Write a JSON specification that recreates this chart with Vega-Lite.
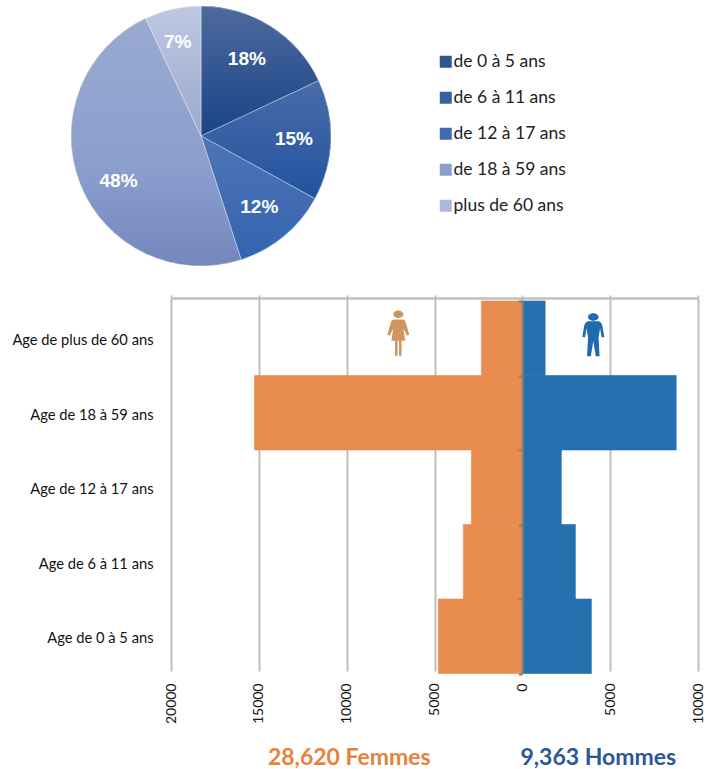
{
"$schema":"https://vega.github.io/schema/vega-lite/v6.json",
"padding":{"left":11,"top":0,"right":0,"bottom":0},
"spacing":22,
"background":"white",
"config":{"view":{"stroke":null},"font":"Lato"},
"resolve":{"scale":{"color":"independent"}},
"datasets":{
"pie":[
{"groupe":"de 0 à 5 ans","part":18,"label":"18%","i":1},
{"groupe":"de 6 à 11 ans","part":15,"label":"15%","i":2},
{"groupe":"de 12 à 17 ans","part":12,"label":"12%","i":3},
{"groupe":"de 18 à 59 ans","part":48,"label":"48%","i":4},
{"groupe":"plus de 60 ans","part":7,"label":"7%","i":5}],
"bars":[
{"age":"Age de plus de 60 ans","sexe":"Femmes","n":-2330},
{"age":"Age de 18 à 59 ans","sexe":"Femmes","n":-15250},
{"age":"Age de 12 à 17 ans","sexe":"Femmes","n":-2900},
{"age":"Age de 6 à 11 ans","sexe":"Femmes","n":-3360},
{"age":"Age de 0 à 5 ans","sexe":"Femmes","n":-4780},
{"age":"Age de plus de 60 ans","sexe":"Hommes","n":1300},
{"age":"Age de 18 à 59 ans","sexe":"Hommes","n":8760},
{"age":"Age de 12 à 17 ans","sexe":"Hommes","n":2220},
{"age":"Age de 6 à 11 ans","sexe":"Hommes","n":3020},
{"age":"Age de 0 à 5 ans","sexe":"Hommes","n":3930}],
"totaux":[
{"age":"Age de 0 à 5 ans","sexe":"Femmes","n":-9850,"t":"28,620 Femmes"},
{"age":"Age de 0 à 5 ans","sexe":"Hommes","n":4325,"t":"9,363 Hommes"}],
"icones":[
{"age":"Age de plus de 60 ans","sexe":"Femmes","n":-7060},
{"age":"Age de plus de 60 ans","sexe":"Hommes","n":4040}]
},
"vconcat":[
{"width":60,"height":272,
"data":{"name":"pie"},
"encoding":{
"theta":{"field":"part","type":"quantitative","stack":true},
"order":{"field":"i","type":"ordinal"}
},
"layer":[
{"mark":{"type":"arc","outerRadius":130},
"encoding":{"color":{"field":"groupe","type":"nominal","sort":null,
"scale":{"domain":["de 0 à 5 ans","de 6 à 11 ans","de 12 à 17 ans","de 18 à 59 ans","plus de 60 ans"],
"range":["#2F5492","#3560A4","#4169B4","#8B9ECE","#ADB8D8"]},
"legend":{"title":null,"orient":"none","legendX":266,"legendY":53,"symbolType":"square","symbolSize":144,"symbolStrokeWidth":0,"labelFont":"Lato","labelFontSize":17.5,"labelColor":"#222222","labelOffset":-1,"rowPadding":17,"labelLimit":200,
"encode":{"symbols":{"update":{"fill":{"signal":"datum.value === 'de 0 à 5 ans' ? {gradient:'linear',x1:0,y1:0,x2:0,y2:1,stops:[{offset:0,color:'#4E6A9E'},{offset:1,color:'#194487'}]} : datum.value === 'de 6 à 11 ans' ? {gradient:'linear',x1:0,y1:0,x2:0,y2:1,stops:[{offset:0,color:'#4A6CA9'},{offset:1,color:'#22539F'}]} : datum.value === 'de 12 à 17 ans' ? {gradient:'linear',x1:0,y1:0,x2:0,y2:1,stops:[{offset:0,color:'#4E74B8'},{offset:1,color:'#3464B0'}]} : datum.value === 'de 18 à 59 ans' ? {gradient:'linear',x1:0,y1:0,x2:0,y2:1,stops:[{offset:0,color:'#9AAAD0'},{offset:1,color:'#7487BC'}]} : {gradient:'linear',x1:0,y1:0,x2:0,y2:1,stops:[{offset:0,color:'#BFC8E3'},{offset:1,color:'#9AA8CB'}]}"}}}}
}}}},
{"mark":{"type":"arc","outerRadius":130,"stroke":"#ffffff","strokeWidth":0.4},
"encoding":{"color":{"condition":[
{"test":"datum.i === 1","value":{"gradient":"linear","x1":0,"y1":0,"x2":0,"y2":1,"stops":[{"offset":0,"color":"#4E6A9E"},{"offset":1,"color":"#194487"}]}},
{"test":"datum.i === 2","value":{"gradient":"linear","x1":0,"y1":0,"x2":0,"y2":1,"stops":[{"offset":0,"color":"#4A6CA9"},{"offset":1,"color":"#22539F"}]}},
{"test":"datum.i === 3","value":{"gradient":"linear","x1":0,"y1":0,"x2":0,"y2":1,"stops":[{"offset":0,"color":"#4E74B8"},{"offset":1,"color":"#3464B0"}]}},
{"test":"datum.i === 4","value":{"gradient":"linear","x1":0,"y1":0,"x2":0,"y2":1,"stops":[{"offset":0,"color":"#9AAAD0"},{"offset":0.6,"color":"#8B9ECE"},{"offset":1,"color":"#7487BC"}]}}
],"value":{"gradient":"linear","x1":0,"y1":0,"x2":0,"y2":1,"stops":[{"offset":0,"color":"#BFC8E3"},{"offset":1,"color":"#9AA8CB"}]}}}},
{"mark":{"type":"text","radius":93,"fontSize":19,"fontWeight":"bold","color":"#ffffff","font":"Liberation Sans",
"dx":{"expr":"datum.i===4?4:datum.i===1?-4:datum.i===5?-3:datum.i===3?-1:0"},
"dy":{"expr":"datum.i===4?11:datum.i===1?2:datum.i===5?-3:datum.i===3?-1:0"}},
"encoding":{"text":{"field":"label"}}}
]},
{"width":527,"height":376,
"data":{"name":"bars"},
"encoding":{
"x":{"field":"n","type":"quantitative","axis":null,"scale":{"domain":[-20000,10000],"nice":false,"zero":false}},
"y":{"field":"age","type":"ordinal","axis":null,"sort":["Age de plus de 60 ans","Age de 18 à 59 ans","Age de 12 à 17 ans","Age de 6 à 11 ans","Age de 0 à 5 ans"],"scale":{"range":[3,375.5],"paddingInner":0,"paddingOuter":0}}
},
"resolve":{"axis":{"x":"independent","y":"independent"}},
"layer":[
{"mark":{"type":"bar","strokeWidth":0.6},
"encoding":{
"x":{"field":"n","type":"quantitative","stack":null,"axis":{"orient":"bottom","title":null,"values":[-20000,-15000,-10000,-5000,0,5000,10000],"labelExpr":"abs(datum.value)","grid":true,"gridColor":"#BFBFBF","gridWidth":2,"domain":false,"ticks":false,"labelAngle":-90,"labelAlign":"right","labelBaseline":"middle","labelPadding":9,"labelFontSize":14,"labelColor":"#111111","labelFont":"Lato","labelOverlap":false,"labelFlush":false,"labelBound":false}},
"y":{"field":"age","type":"ordinal","sort":["Age de plus de 60 ans","Age de 18 à 59 ans","Age de 12 à 17 ans","Age de 6 à 11 ans","Age de 0 à 5 ans"],"axis":{"orient":"left","title":null,"domain":false,"ticks":false,"labelPadding":18,"labelOffset":3,"labelFontSize":14.7,"labelColor":"#111111","labelFont":"Lato","labelLimit":200}},
"color":{"field":"sexe","type":"nominal","scale":{"domain":["Femmes","Hommes"],"range":["#E98C4F","#2570AF"]},"legend":null},
"stroke":{"field":"sexe","type":"nominal","scale":{"domain":["Femmes","Hommes"],"range":["#E98C4F","#2570AF"]},"legend":null}
}},
{"mark":{"type":"bar","opacity":0},
"encoding":{
"x":{"field":"n","type":"quantitative","stack":null,"axis":{"orient":"top","title":null,"values":[-20000,-15000,-10000,-5000,0,5000,10000],"labels":false,"grid":false,"domainColor":"#BFBFBF","domainWidth":2.5,"tickColor":"#BFBFBF","tickWidth":2,"tickSize":3,"zindex":1}},
"y":{"field":"age","type":"ordinal","sort":["Age de plus de 60 ans","Age de 18 à 59 ans","Age de 12 à 17 ans","Age de 6 à 11 ans","Age de 0 à 5 ans"],"axis":{"orient":"left","title":null,"labels":false,"offset":-351.3,"tickBand":"extent","domainColor":"#808080","domainWidth":2,"tickColor":"#808080","tickWidth":2,"tickSize":4,"zindex":1}}
}},
{"data":{"name":"icones"},"transform":[{"filter":"datum.sexe === 'Femmes'"}],
"mark":{"type":"point","filled":true,"opacity":1,"size":2500,"color":"#D1955F","yOffset":-5,"shape":"M-.2,-.76 A.2,.15 0 1 1 .2,-.76 A.2,.15 0 1 1 -.2,-.76 Z M-.2,-.55 L.2,-.55 Q.27,-.53 .3,-.42 L.44,.06 L.34,.09 L.2,-.2 L.28,.3 L.13,.3 L.13,.9 L.03,.9 L.03,.3 L-.03,.3 L-.03,.9 L-.13,.9 L-.13,.3 L-.28,.3 L-.2,-.2 L-.34,.09 L-.44,.06 L-.3,-.42 Q-.27,-.53 -.2,-.55 Z"},
"encoding":{}},
{"data":{"name":"icones"},"transform":[{"filter":"datum.sexe === 'Hommes'"}],
"mark":{"type":"point","filled":true,"opacity":1,"size":2500,"color":"#1F69AE","yOffset":-3,"shape":"M-.21,-.73 A.21,.15 0 1 1 .21,-.73 A.21,.15 0 1 1 -.21,-.73 Z M-.22,-.56 L.22,-.56 Q.33,-.53 .36,-.4 L.44,.07 L.33,.08 L.27,-.28 L.21,.1 L.25,.84 L.1,.84 L0,.24 L-.1,.84 L-.25,.84 L-.21,.1 L-.27,-.28 L-.33,.08 L-.44,.07 L-.36,-.4 Q-.33,-.53 -.22,-.56 Z"},
"encoding":{}},
{"data":{"name":"totaux"},"transform":[{"filter":"datum.sexe === 'Femmes'"}],
"mark":{"type":"text","fontSize":23,"fontWeight":"bold","font":"Lato","color":"#E8813B","yOffset":122},
"encoding":{"text":{"field":"t"}}},
{"data":{"name":"totaux"},"transform":[{"filter":"datum.sexe === 'Hommes'"}],
"mark":{"type":"text","fontSize":23,"fontWeight":"bold","font":"Lato","color":"#2B5797","yOffset":122},
"encoding":{"text":{"field":"t"}}}
]}
]
}
